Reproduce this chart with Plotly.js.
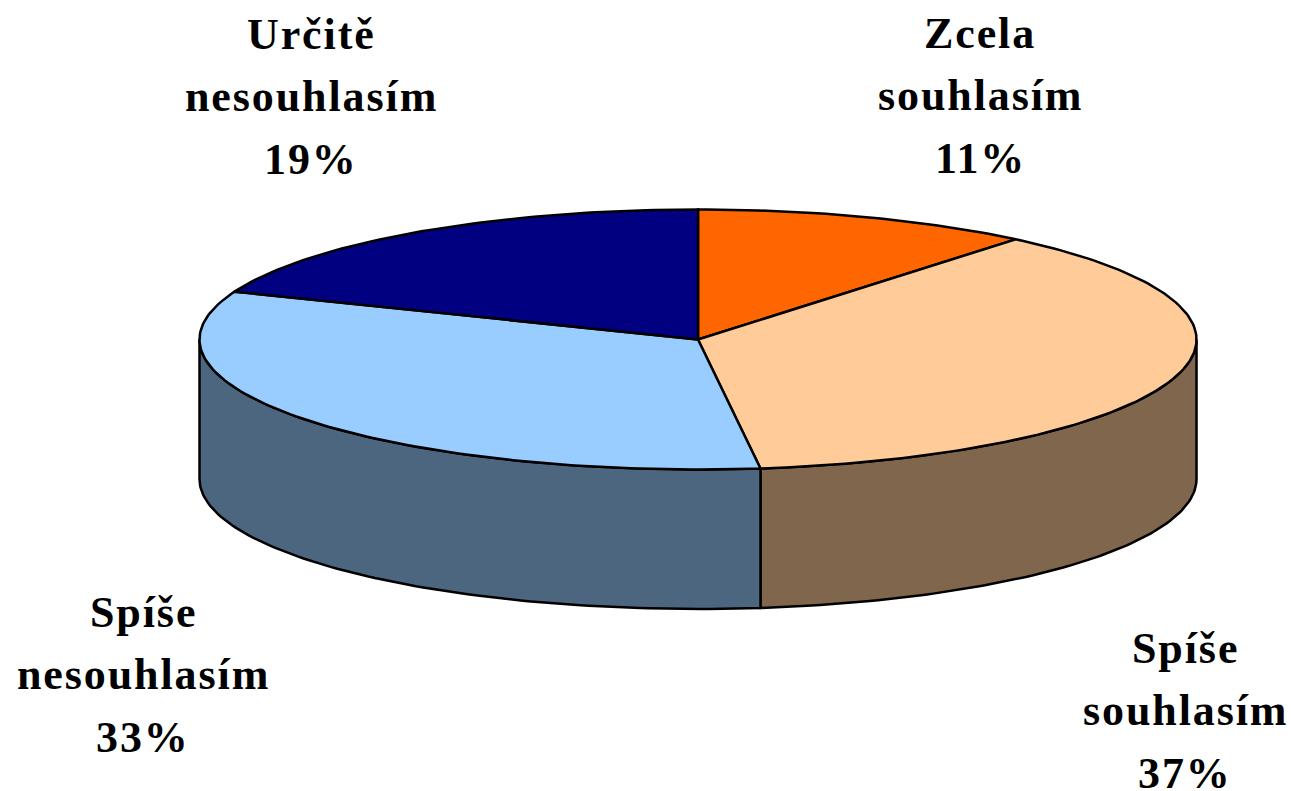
<!DOCTYPE html>
<html><head><meta charset="utf-8">
<script src="https://cdn.plot.ly/plotly-3.0.1.min.js"></script>
<style>html,body{margin:0;padding:0;background:#fff}#c{width:1291px;height:791px}.annotation-text{letter-spacing:1.9px}</style></head>
<body><div id="c"></div>
<script>
const categories = [["Zcela","souhlasím"],["Spíše","souhlasím"],["Spíše","nesouhlasím"],["Určitě","nesouhlasím"]];
const values = [11,37,33,19];
const topColors = ["#FF6600","#FFCC99","#99CCFF","#000080"];
const sideColors = ["#803300","#80664D","#4D6680","#000040"];
const labelCenters = [[980,33],[1185,648],[143,612],[311,34]];
const lineGap = 62.5;
const C = {x:698,y:339.5,rx:498.5,ry:130,depth:139.5};
const pt = (deg,dy=0)=>[C.x+C.rx*Math.sin(deg*Math.PI/180), C.y-C.ry*Math.cos(deg*Math.PI/180)+dy];
const arc = (a,b,dy=0)=>{const o=[],n=Math.max(2,Math.ceil(Math.abs(b-a)));for(let i=0;i<=n;i++)o.push(pt(a+(b-a)*i/n,dy));return o;};
const poly = (pts,fill)=>({type:"scatter",mode:"lines",x:pts.map(p=>p[0]),y:pts.map(p=>p[1]),fill:"toself",fillcolor:fill,line:{color:"#000",width:2.5,shape:"linear"},hoverinfo:"skip",showlegend:false});
const total = values.reduce((a,b)=>a+b,0);
let cum=0; const spans = values.map(v=>{const s=[cum*360/total,(cum+v)*360/total];cum+=v;return s;});
const traces=[];
spans.forEach((s,i)=>{
  const a=Math.max(s[0],90), b=Math.min(s[1],270);
  if(b>a) traces.push(poly([...arc(a,b),...arc(b,a,C.depth),pt(a)],sideColors[i]));
});
spans.forEach((s,i)=>{
  traces.push(poly([[C.x,C.y],...arc(s[0],s[1]),[C.x,C.y]],topColors[i]));
});
const annotations=[];
categories.forEach((lines,i)=>{
  [...lines,values[i]+"%"].forEach((t,j)=>annotations.push({x:labelCenters[i][0],y:labelCenters[i][1]+j*lineGap,text:"<b>"+t+"</b>",showarrow:false,xanchor:"center",yanchor:"middle",font:{family:"Liberation Serif",size:44,color:"#000"}}));
});
Plotly.newPlot("c",traces,{width:1291,height:791,margin:{l:0,r:0,t:0,b:0},paper_bgcolor:"#fff",plot_bgcolor:"#fff",showlegend:false,annotations,
 xaxis:{range:[0,1291],visible:false,fixedrange:true},yaxis:{range:[791,0],visible:false,fixedrange:true}},{displayModeBar:false,staticPlot:true});
</script></body></html>
